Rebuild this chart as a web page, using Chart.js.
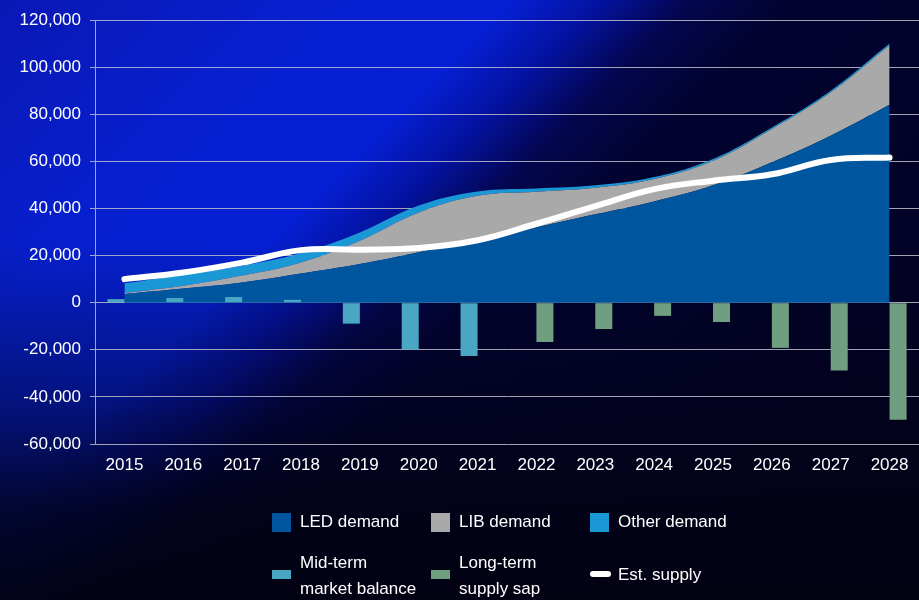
<!DOCTYPE html>
<html>
<head>
<meta charset="utf-8">
<script src="https://cdn.jsdelivr.net/npm/chart.js@4"></script>
<style>
body { margin: 0; background: #020220; }
#wrap { position: relative; width: 919px; height: 600px; font-family: 'Liberation Sans', Arial, sans-serif; }
#legend .txt { position: absolute; color: #fff; font-size: 17px; white-space: pre-line; }
#legend .sym { position: absolute; }
</style>
</head>
<body>
<div id="wrap">
  <canvas id="chart" width="919" height="600"></canvas>
  <div id="legend"></div>
</div>
<script>
var years = ['2015', '2016', '2017', '2018', '2019', '2020', '2021', '2022', '2023', '2024', '2025', '2026', '2027', '2028']

// stacked demand layers
var ledDemand = [3700, 6000, 8600, 12400, 16400, 21400, 27000, 32000, 37500, 43000, 49800, 59600, 70900, 84000]
var libDemand = [400, 1200, 2900, 4700, 9900, 16900, 18400, 15100, 11300, 9500, 10400, 14100, 18400, 25300]
var otherDemand = [4100, 4700, 4200, 4000, 3500, 2900, 1800, 1400, 1000, 800, 800, 700, 700, 700]

var estSupply = [10000, 12800, 17000, 22300, 22500, 23200, 26500, 33500, 41000, 48200, 51800, 54500, 60600, 61600]

var midTermBalance = [1500, 2000, 2400, 1200, -8900, -19900, -22600, null, null, null, null, null, null, null]
var longTermGap = [null, null, null, null, null, null, null, -16700, -11200, -5600, -8200, -19200, -28800, -49700]

var axisFont = { family: "'Liberation Sans', Arial, sans-serif", size: 17 }
var gridColor = 'rgba(190,190,205,0.85)'

var background = {
    id: 'background',
    beforeDraw: function(chart){
        var ctx = chart.ctx
        var w = chart.width, h = chart.height
        ctx.save()
        var g = ctx.createLinearGradient(0, 0, 640, 640)
        g.addColorStop(0, '#0a18b4')
        g.addColorStop(0.25, '#0620d0')
        g.addColorStop(0.4, '#0520d4')
        g.addColorStop(0.47, '#0412a0')
        g.addColorStop(0.54, '#03064e')
        g.addColorStop(0.62, '#020330')
        g.addColorStop(1, '#030224')
        ctx.fillStyle = g
        ctx.fillRect(0, 0, w, h)
        var v = ctx.createLinearGradient(0, 240, 0, h)
        v.addColorStop(0, 'rgba(2,2,22,0)')
        v.addColorStop(0.45, 'rgba(2,2,22,0.45)')
        v.addColorStop(0.75, 'rgba(2,2,20,0.85)')
        v.addColorStop(1, 'rgba(2,2,18,0.95)')
        ctx.fillStyle = v
        ctx.fillRect(0, 240, w, h - 240)
        ctx.restore()
    }
}

var canvas = document.querySelector("#chart")

var chart = new Chart(canvas, {
    type: 'bar',
    data: {
        labels: years,
        datasets: [
            { type: 'line', label: 'LED demand', data: ledDemand, stack: 'demand', order: 2,
              backgroundColor: '#00569e', borderWidth: 0, pointRadius: 0, fill: 'origin', tension: 0.4 },
            { type: 'line', label: 'LIB demand', data: libDemand, stack: 'demand', order: 2,
              backgroundColor: '#a9a9a9', borderWidth: 0, pointRadius: 0, fill: '-1', tension: 0.4 },
            { type: 'line', label: 'Other demand', data: otherDemand, stack: 'demand', order: 2,
              backgroundColor: '#1a98d6', borderWidth: 0, pointRadius: 0, fill: '-1', tension: 0.4 },
            { type: 'line', label: 'Est. supply', data: estSupply, stack: 'supply', order: 0,
              borderColor: '#ffffff', borderWidth: 6, borderCapStyle: 'round', pointRadius: 0, fill: false, tension: 0.4 },
            { label: 'Mid-term\nmarket balance', data: midTermBalance, stack: 'mid', order: 1,
              backgroundColor: '#4aa7c4' },
            { label: 'Long-term\nsupply sap', data: longTermGap, stack: 'long', order: 1,
              backgroundColor: '#6f9f80' }
        ]
    },
    options: {
        responsive: false,
        animation: false,
        layout: { padding: { top: 20, right: 0, left: 0, bottom: 0 } },
        datasets: { bar: { categoryPercentage: 0.578, barPercentage: 1 } },
        plugins: { legend: { display: false }, tooltip: { enabled: false } },
        scales: {
            x: {
                stacked: true,
                grid: { display: false },
                border: { display: false },
                ticks: { color: '#ffffff', font: axisFont, padding: 3, maxRotation: 0 },
                afterFit: function(scale){ scale.height = 156 }
            },
            y: {
                stacked: true,
                z: 1,
                min: -60000,
                max: 120000,
                grid: { color: gridColor, lineWidth: 1, tickLength: 5, tickColor: gridColor },
                border: { display: true, color: gridColor, width: 1 },
                ticks: {
                    stepSize: 20000,
                    color: '#ffffff',
                    font: axisFont,
                    padding: 9,
                    callback: function(v){ return v.toLocaleString('en-US') }
                },
                afterFit: function(scale){ scale.width = 95 }
            }
        }
    },
    plugins: [background]
})

// legend in the layout of the original: three columns, two rows
var legendItems = [
    { ds: 0, x: 272, row: 0 }, { ds: 1, x: 431, row: 0 }, { ds: 2, x: 590, row: 0 },
    { ds: 4, x: 272, row: 1 }, { ds: 5, x: 431, row: 1 }, { ds: 3, x: 590, row: 1 }
]

function buildLegend(chart){
    var legend = document.querySelector("#legend")
    legendItems.forEach(function(item){
        var ds = chart.data.datasets[item.ds]
        var sym = document.createElement('div')
        sym.className = 'sym'
        sym.style.left = item.x + 'px'
        if (ds.type === 'line' && ds.fill === false) {
            sym.style.top = '571px'
            sym.style.width = '21px'
            sym.style.height = '6px'
            sym.style.borderRadius = '3px'
            sym.style.background = ds.borderColor
        } else if (item.row === 0) {
            sym.style.top = '513px'
            sym.style.width = '19px'
            sym.style.height = '19px'
            sym.style.background = ds.backgroundColor
        } else {
            sym.style.top = '570px'
            sym.style.width = '19px'
            sym.style.height = '9px'
            sym.style.background = ds.backgroundColor
        }
        legend.appendChild(sym)

        var txt = document.createElement('div')
        txt.className = 'txt'
        txt.textContent = ds.label
        txt.style.left = (item.x + 28) + 'px'
        if (item.row === 0) {
            txt.style.top = '512px'
            txt.style.lineHeight = '20px'
        } else {
            var lines = ds.label.split('\n').length
            txt.style.lineHeight = '26px'
            txt.style.top = (lines > 1 ? 550 : 562) + 'px'
        }
        legend.appendChild(txt)
    })
}

buildLegend(chart)
</script>
</body>
</html>
